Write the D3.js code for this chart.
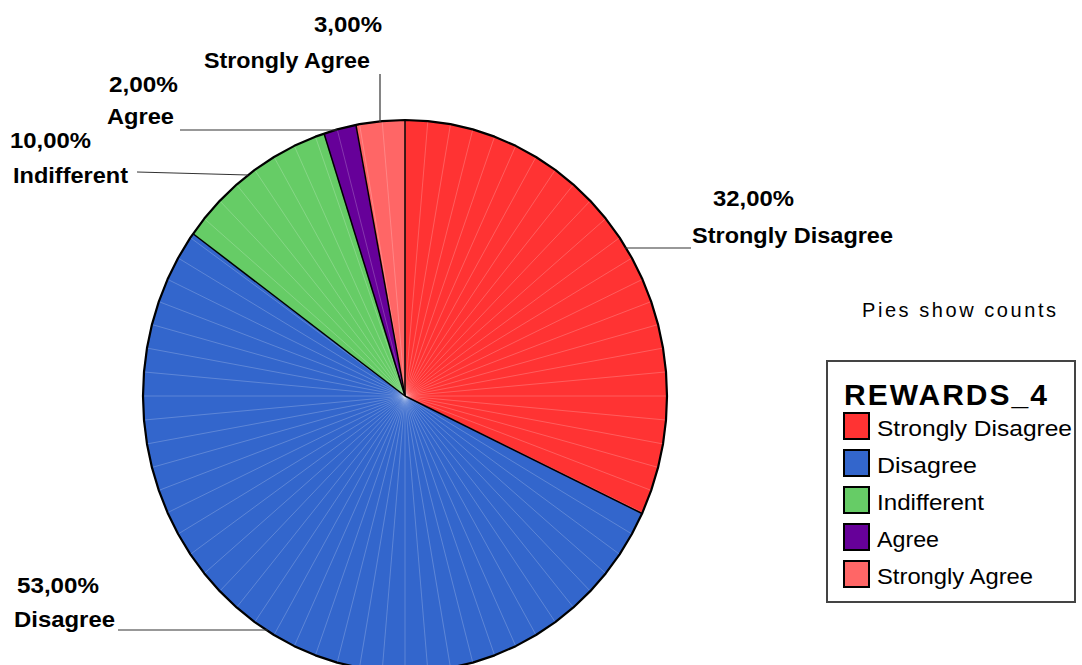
<!DOCTYPE html>
<html>
<head>
<meta charset="utf-8">
<script src="https://cdn.jsdelivr.net/npm/d3@7"></script>
<style>
  html, body { margin: 0; padding: 0; background: #fff; }
  svg { display: block; }
  text { font-family: Arial, "Liberation Sans", sans-serif; }
</style>
</head>
<body>
<svg id="chart" width="1082" height="665"></svg>
<script>
// Response categories for REWARDS_4 and their share of respondents (%)
const categories = ["Strongly Disagree", "Disagree", "Indifferent", "Agree", "Strongly Agree"];
const percents = [32, 53, 10, 2, 3];
const colors = ["#FF3333", "#3366CC", "#66CC66", "#660099", "#FF6666"];
// The pie is built from flat facets; each facet edge shows as a faint rule
const facetCount = 72;
const legendTitle = "REWARDS_4";
const noteText = "Pies show counts";

const fmtPct = v => d3.format(".2f")(v).replace(".", ",") + "%";

// Label placement for each slice (percentage line above the category line)
const labelLayout = [
  { px: 713, py: 206, pw: 81, lx: 692, ly: 243, lw: 201, line: [[625, 248], [691, 248]] },
  { px: 17,  py: 593, pw: 82, lx: 14,  ly: 627, lw: 101, line: [[118, 630], [268, 630]] },
  { px: 10,  py: 148, pw: 81, lx: 13,  ly: 183, lw: 115, line: [[137, 172], [248, 175]] },
  { px: 109, py: 92,  pw: 69, lx: 107, ly: 124, lw: 67,  line: [[180, 130], [337, 130]] },
  { px: 314, py: 32,  pw: 68, lx: 204, ly: 68,  lw: 166, line: [[380, 74], [380, 122]] }
];
const legendTextWidths = [195, 100, 107, 62, 156];

const svg = d3.select("#chart");
const cx = 405, cy = 396, rx = 262, ry = 276;

const pie = d3.pie().sort(null).value(d => d.value);
const arcs = pie(categories.map((c, i) => ({ name: c, value: percents[i], color: colors[i] })));

const facetAngle = 2 * Math.PI / facetCount;
const pt = a => {
  const [x, y] = d3.pointRadial(a, 1);
  return [cx + rx * x, cy + ry * y];
};

// Faceted outline points between two angles
function rimPoints(a0, a1) {
  const pts = [pt(a0)];
  let k = Math.floor(a0 / facetAngle + 1e-9) + 1;
  for (; k * facetAngle < a1 - 1e-9; k++) pts.push(pt(k * facetAngle));
  pts.push(pt(a1));
  return pts;
}

const line = d3.line();
const gPie = svg.append("g");

// slice fills
gPie.selectAll("path.slice")
  .data(arcs)
  .join("path")
  .attr("class", "slice")
  .attr("d", d => line([[cx, cy], ...rimPoints(d.startAngle, d.endAngle)]) + "Z")
  .attr("fill", d => d.data.color)
  .attr("stroke", d => d.data.color)
  .attr("stroke-width", 0.5);

// faint facet rules
const facetAngles = d3.range(facetCount).map(k => k * facetAngle);
gPie.selectAll("line.facet")
  .data(facetAngles)
  .join("line")
  .attr("class", "facet")
  .attr("x1", cx).attr("y1", cy)
  .attr("x2", a => pt(a)[0]).attr("y2", a => pt(a)[1])
  .attr("stroke", "#ffffff")
  .attr("stroke-opacity", 0.3)
  .attr("stroke-width", 0.7);

// slice borders
gPie.selectAll("line.border")
  .data(arcs)
  .join("line")
  .attr("class", "border")
  .attr("x1", cx).attr("y1", cy)
  .attr("x2", d => pt(d.startAngle)[0]).attr("y2", d => pt(d.startAngle)[1])
  .attr("stroke", "#000")
  .attr("stroke-width", 1.5);

// outer rim
gPie.append("path")
  .attr("d", line(rimPoints(0, 2 * Math.PI)) + "Z")
  .attr("fill", "none")
  .attr("stroke", "#000")
  .attr("stroke-width", 2.2)
  .attr("stroke-linejoin", "round");

// slice labels and leader lines
const gLab = svg.append("g");
arcs.forEach((d, i) => {
  const L = labelLayout[i];
  gLab.append("path")
    .attr("d", line(L.line))
    .attr("stroke", "#333")
    .attr("stroke-width", 1.2)
    .attr("fill", "none");
  gLab.append("text")
    .attr("x", L.px).attr("y", L.py)
    .attr("font-size", 22).attr("font-weight", "bold")
    .attr("textLength", L.pw).attr("lengthAdjust", "spacingAndGlyphs")
    .text(fmtPct(d.data.value));
  gLab.append("text")
    .attr("x", L.lx).attr("y", L.ly)
    .attr("font-size", 22).attr("font-weight", "bold")
    .attr("textLength", L.lw).attr("lengthAdjust", "spacingAndGlyphs")
    .text(d.data.name);
});

// note
svg.append("text")
  .attr("x", 862).attr("y", 317)
  .attr("font-size", 20)
  .attr("textLength", 194).attr("lengthAdjust", "spacing")
  .text(noteText);

// legend
const gLeg = svg.append("g");
gLeg.append("rect")
  .attr("x", 827).attr("y", 361).attr("width", 248).attr("height", 241)
  .attr("fill", "#fff").attr("stroke", "#444").attr("stroke-width", 2);
gLeg.append("text")
  .attr("x", 844).attr("y", 405)
  .attr("font-size", 30).attr("font-weight", "bold")
  .attr("textLength", 203).attr("lengthAdjust", "spacing")
  .text(legendTitle);

const legY = d3.scalePoint().domain(categories).range([413, 561]);
const items = gLeg.selectAll("g.item")
  .data(categories)
  .join("g")
  .attr("class", "item")
  .attr("transform", c => `translate(0,${legY(c)})`);
items.append("rect")
  .attr("x", 844).attr("y", 0).attr("width", 25).attr("height", 26)
  .attr("fill", (c, i) => colors[i])
  .attr("stroke", "#000").attr("stroke-width", 2);
items.append("text")
  .attr("x", 877).attr("y", 23)
  .attr("font-size", 22)
  .attr("textLength", (c, i) => legendTextWidths[i]).attr("lengthAdjust", "spacingAndGlyphs")
  .text(c => c);
</script>
</body>
</html>
